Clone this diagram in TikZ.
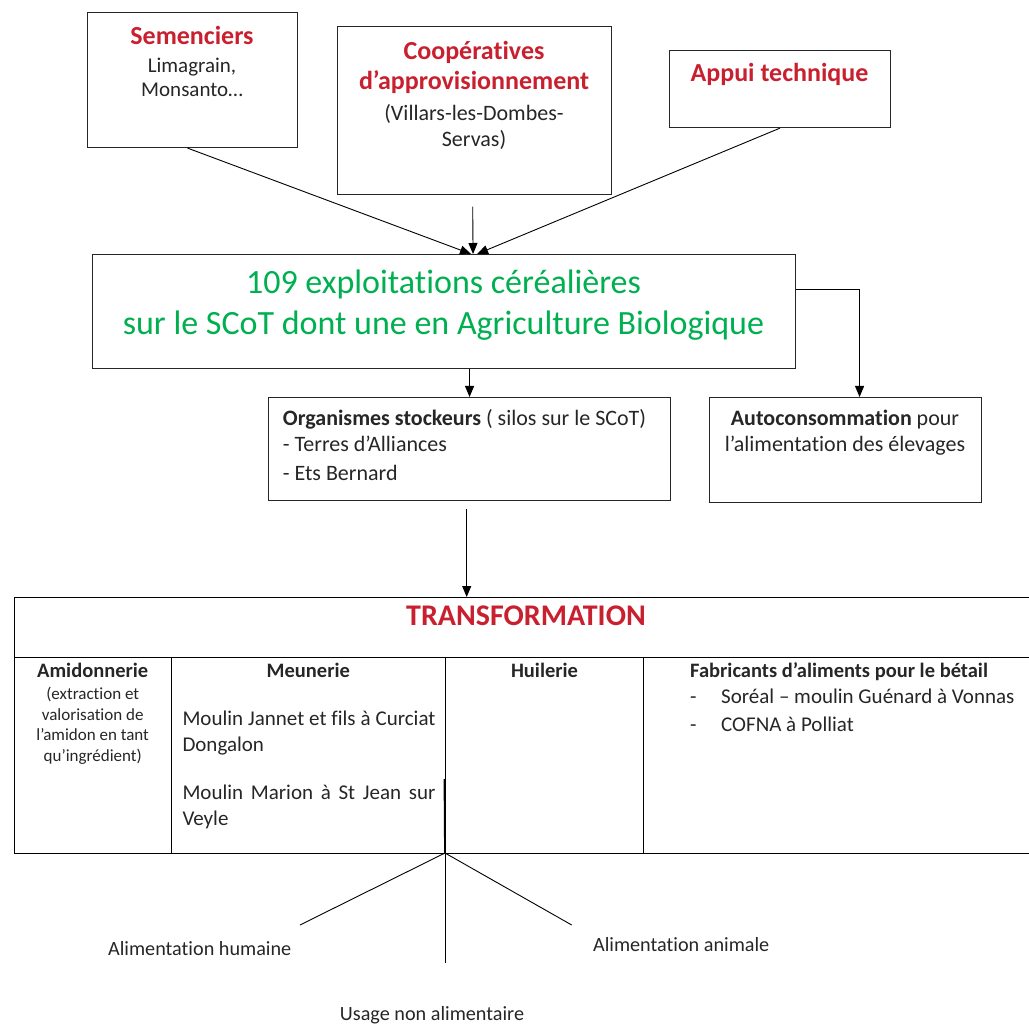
\documentclass[tikz,border=0pt]{standalone}
\usepackage{fontspec}
\setmainfont{Carlito}[Ligatures=NoCommon]
\usetikzlibrary{positioning,arrows.meta}
\definecolor{titlered}{RGB}{200,32,46}
\definecolor{bio}{RGB}{0,176,80}
\definecolor{ink}{RGB}{38,38,38}
\newcommand\hdfont{\fontsize{26}{31}\selectfont\bfseries\color{titlered}}
\newcommand\colfont{\fontsize{20.5}{25}\selectfont\bfseries}
\newcommand\nsp{\spaceskip=0pt\xspaceskip=0pt\relax}

\begin{document}
\begin{tikzpicture}[x=1pt,y=-1pt,>={Triangle[length=11pt,width=9pt]},
    box/.style={draw=black!85,line width=1.1pt,anchor=north west,inner sep=0pt},
    txt/.style={anchor=base,inner sep=0pt,text=ink,align=flush center},
    rule/.style={draw=black,line width=0.9pt},
    link/.style={line width=0.9pt}]
    \useasboundingbox (0,0) rectangle (1029,1024);

    % boxes
    \node[box,minimum width=210pt,minimum height=135pt] (sem)   at (87,12)   {};
    \node[box,minimum width=274pt,minimum height=168pt] (coop)  at (337,26)  {};
    \node[box,minimum width=221pt,minimum height=77pt]  (appui) at (669,50)  {};
    \node[box,minimum width=703pt,minimum height=114pt] (main)  at (92,254)  {};
    \node[box,minimum width=402pt,minimum height=103pt] (org)   at (268,397) {};
    \node[box,minimum width=272pt,minimum height=105pt] (auto)  at (709,397) {};
    \node[box,minimum width=1026pt,minimum height=256pt,draw=black,line width=0.9pt] (table) at (14,597) {};

    % texts
    \node[txt,text width=200pt,font=\fontsize{21}{24.4}\selectfont] (semTxt) at (192,45)
        {\nsp{\hdfont Semenciers}\\[2.9pt]Limagrain,\\Monsanto…};
    \node[txt,text width=265pt,font=\fontsize{22}{26.3}\selectfont] (coopTxt) at (474,59.3)
        {\nsp{\hdfont Coopératives}\\[4.4pt]{\hdfont d’approvisionnement}\\[4.4pt](Villars-les-Dombes-\\Servas)};
    \node[txt,text width=215pt] (appuiTxt) at (779.5,81.7) {\nsp\hdfont Appui technique};
    \node[txt,text width=690pt,text=bio,font=\fontsize{34}{41.7}\selectfont] (mainTxt) at (443.5,293.3)
        {\nsp 109 exploitations céréalières\\sur le SCoT dont une en Agriculture Biologique};
    \node[txt,anchor=base west,align=flush left,text width=385pt,font=\fontsize{22}{26.7}\selectfont] (orgTxt) at (282.7,425)
        {\nsp\textbf{Organismes stockeurs} ( silos sur le SCoT)\\- Terres d’Alliances\\[2.3pt]- Ets Bernard};
    \node[txt,text width=265pt,font=\fontsize{22}{26.7}\selectfont] (autoTxt) at (845,425)
        {\nsp\textbf{Autoconsommation} pour\\l’alimentation des élevages};

    % transformation table
    \draw[rule] (14,657.7) -- (1040,657.7);
    \foreach \x in {171.7,445,643.7}
        \draw[rule] (\x,657.7) -- (\x,853);
    \node[txt,text width=400pt,font=\fontsize{30}{36}\selectfont\bfseries,text=titlered] (transTxt) at (526,625) {TRANSFORMATION};
    \node[txt,text width=152pt,font=\fontsize{17}{20.8}\selectfont] (amidTxt) at (92.7,677)
        {\nsp{\colfont Amidonnerie}\\[1.5pt](extraction et\\valorisation de\\l’amidon en tant\\qu’ingrédient)};
    \node[txt,text width=260pt,font=\colfont] (meunHead) at (308.3,677) {Meunerie};
    \node[txt,anchor=base west,align=justify,text width=253pt,font=\fontsize{21}{26}\selectfont] (meunA) at (182.3,725)
        {\nsp Moulin Jannet et fils à Curciat Dongalon};
    \node[txt,anchor=base west,align=justify,text width=253pt,font=\fontsize{21}{26}\selectfont] (meunB) at (182.3,799)
        {\nsp Moulin Marion à St Jean sur Veyle};
    \node[txt,text width=190pt,font=\colfont] (huilHead) at (544.5,677) {Huilerie};
    \node[txt,anchor=base west,align=flush left,text width=400pt,font=\colfont] (fabHead) at (690,677)
        {\nsp Fabricants d’aliments pour le bétail};
    \node[txt,anchor=base west,align=flush left,text width=400pt,font=\fontsize{21}{28.4}\selectfont] (fabTxt) at (690,703.3)
        {\nsp\makebox[31pt][l]{-}Soréal – moulin Guénard à Vonnas\\\makebox[31pt][l]{-}COFNA à Polliat};

    % uses
    \coordinate (stem)    at (444.5,779);
    \coordinate (fan)     at (445,853);
    \coordinate (humEnd)  at (300,925);
    \coordinate (aniEnd)  at (571.7,925);
    \coordinate (useEnd)  at (445,962.7);
    \node[txt,font=\fontsize{20.2}{24}\selectfont] (humTxt) at (199.7,955)  {\nsp Alimentation humaine};
    \node[txt,font=\fontsize{20.2}{24}\selectfont] (aniTxt) at (681.2,951.7) {\nsp Alimentation animale};
    \node[txt,font=\fontsize{20.2}{24}\selectfont] (useTxt) at (432,1020)  {\nsp Usage non alimentaire};
    \draw[line width=1.8pt] (stem) -- (fan);
    \path[link] (fan) edge (humEnd)
                (fan) edge (aniEnd)
                (fan) edge (useEnd);

    % flows
    \coordinate (coopOut) at (472.7,206.7);
    \coordinate (orgOut)  at (466.7,509);
    \path[link,->] ([xshift=-5pt]sem.south) edge ([xshift=27pt]main.north)
                   (coopOut)                edge ([xshift=29pt]main.north)
                   (appui.south)            edge ([xshift=33pt]main.north)
                   (org.north |- main.south) edge (org.north)
                   (orgOut)                 edge (orgOut |- table.north);
    \draw[link,->] ([yshift=22pt]main.east) -| ([xshift=14pt]auto.north);
\end{tikzpicture}
\end{document}
